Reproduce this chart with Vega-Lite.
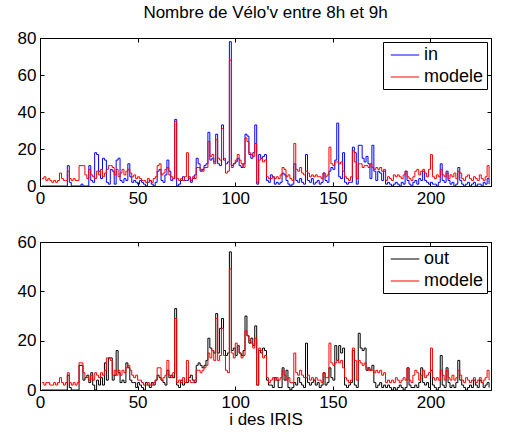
{
  "$schema": "https://vega.github.io/schema/vega-lite/v6.json",
  "padding": {"left": 16, "top": 3, "right": 14, "bottom": 2},
  "spacing": 25,
  "config": {
    "font": "Liberation Sans",
    "view": {"stroke": "black", "strokeWidth": 1},
    "axis": {"domainColor": "black", "tickColor": "black", "labelColor": "black", "labelFontSize": 17, "labelFont": "Liberation Sans", "grid": false, "tickSize": -4, "labelPadding": 8, "titleFontWeight": "normal", "titleFontSize": 17, "titleColor": "black", "titleFont": "Liberation Sans", "labelFlush": false, "labelOverlap": false},
    "legend": {"orient": "top-right", "offset": 4, "title": null, "strokeColor": "black", "fillColor": "white", "padding": 3, "labelFontSize": 18, "labelFont": "Liberation Sans", "labelColor": "black", "symbolType": "M-1.5,0H1.5", "symbolSize": 361, "symbolStrokeWidth": 1, "symbolOffset": 9, "rowPadding": 3, "labelOffset": 9, "cornerRadius": 0},
    "title": {"fontSize": 17, "fontWeight": "normal", "color": "black", "font": "Liberation Sans"}
  },
  "datasets": {
    "d": [
{"i":1,"a":0,"b":4,"c":0,"d":3},{"i":2,"a":0,"b":5,"c":0,"d":2},{"i":3,"a":0,"b":3,"c":0,"d":3},{"i":4,"a":0,"b":4,"c":0,"d":3},{"i":5,"a":0,"b":3,"c":0,"d":2},
{"i":6,"a":0,"b":2,"c":0,"d":2},{"i":7,"a":0,"b":3,"c":0,"d":3},{"i":8,"a":0,"b":2,"c":0,"d":2},{"i":9,"a":0,"b":3,"c":0,"d":3},{"i":10,"a":0,"b":7,"c":0,"d":5},
{"i":11,"a":0,"b":4,"c":0,"d":3},{"i":12,"a":0,"b":3,"c":0,"d":2},{"i":13,"a":0,"b":3,"c":0,"d":3},{"i":14,"a":11,"b":8,"c":6,"d":7},{"i":15,"a":2,"b":4,"c":1,"d":3},
{"i":16,"a":0,"b":3,"c":0,"d":2},{"i":17,"a":0,"b":4,"c":0,"d":3},{"i":18,"a":0,"b":3,"c":0,"d":2},{"i":19,"a":0,"b":3,"c":0,"d":3},{"i":20,"a":0,"b":11,"c":10,"d":11},
{"i":21,"a":1,"b":11,"c":10,"d":11},{"i":22,"a":0,"b":11,"c":4,"d":7},{"i":23,"a":0,"b":6,"c":5,"d":5},{"i":24,"a":0,"b":4,"c":6,"d":5},{"i":25,"a":11,"b":9,"c":3,"d":4},
{"i":26,"a":3,"b":6,"c":7,"d":6},{"i":27,"a":2,"b":5,"c":2,"d":4},{"i":28,"a":18,"b":4,"c":0,"d":7},{"i":29,"a":17,"b":8,"c":4,"d":6},{"i":30,"a":8,"b":6,"c":2,"d":5},
{"i":31,"a":4,"b":9,"c":5,"d":7},{"i":32,"a":15,"b":5,"c":2,"d":6},{"i":33,"a":14,"b":7,"c":11,"d":8},{"i":34,"a":2,"b":9,"c":4,"d":13},{"i":35,"a":1,"b":11,"c":13,"d":13},
{"i":36,"a":9,"b":11,"c":13,"d":12},{"i":37,"a":8,"b":10,"c":4,"d":6},{"i":38,"a":1,"b":6,"c":6,"d":8},{"i":39,"a":14,"b":9,"c":16,"d":6},{"i":40,"a":15,"b":5,"c":7,"d":8},
{"i":41,"a":3,"b":7,"c":3,"d":6},{"i":42,"a":2,"b":9,"c":4,"d":8},{"i":43,"a":4,"b":6,"c":3,"d":7},{"i":44,"a":3,"b":8,"c":11,"d":9},{"i":45,"a":12,"b":9,"c":9,"d":10},
{"i":46,"a":5,"b":7,"c":4,"d":8},{"i":47,"a":2,"b":5,"c":3,"d":6},{"i":48,"a":3,"b":6,"c":3,"d":5},{"i":49,"a":2,"b":4,"c":1,"d":6},{"i":50,"a":1,"b":5,"c":3,"d":4},
{"i":51,"a":3,"b":4,"c":2,"d":4},{"i":52,"a":2,"b":3,"c":1,"d":3},{"i":53,"a":1,"b":3,"c":0,"d":2},{"i":54,"a":0,"b":2,"c":3,"d":2},{"i":55,"a":2,"b":4,"c":2,"d":3},
{"i":56,"a":3,"b":3,"c":1,"d":2},{"i":57,"a":1,"b":2,"c":3,"d":2},{"i":58,"a":0,"b":4,"c":2,"d":3},{"i":59,"a":2,"b":5,"c":4,"d":4},{"i":60,"a":8,"b":11,"c":6,"d":9},
{"i":61,"a":9,"b":12,"c":5,"d":9},{"i":62,"a":3,"b":6,"c":4,"d":4},{"i":63,"a":2,"b":7,"c":3,"d":5},{"i":64,"a":6,"b":9,"c":2,"d":6},{"i":65,"a":14,"b":10,"c":8,"d":12},
{"i":66,"a":8,"b":6,"c":5,"d":6},{"i":67,"a":3,"b":5,"c":6,"d":5},{"i":68,"a":4,"b":4,"c":5,"d":7},{"i":69,"a":36,"b":35,"c":33,"d":29},{"i":70,"a":0,"b":4,"c":2,"d":3},
{"i":71,"a":1,"b":3,"c":1,"d":4},{"i":72,"a":3,"b":4,"c":4,"d":3},{"i":73,"a":5,"b":3,"c":2,"d":5},{"i":74,"a":3,"b":5,"c":3,"d":3},{"i":75,"a":3,"b":18,"c":3,"d":12},
{"i":76,"a":5,"b":4,"c":5,"d":4},{"i":77,"a":2,"b":3,"c":6,"d":3},{"i":78,"a":4,"b":5,"c":4,"d":3},{"i":79,"a":6,"b":4,"c":3,"d":4},{"i":80,"a":15,"b":10,"c":10,"d":8},
{"i":81,"a":12,"b":10,"c":11,"d":8},{"i":82,"a":8,"b":9,"c":10,"d":7},{"i":83,"a":9,"b":8,"c":9,"d":8},{"i":84,"a":11,"b":10,"c":10,"d":9},{"i":85,"a":12,"b":10,"c":12,"d":10},
{"i":86,"a":29,"b":24,"c":21,"d":15},{"i":87,"a":14,"b":16,"c":17,"d":13},{"i":88,"a":15,"b":17,"c":16,"d":16},{"i":89,"a":13,"b":12,"c":15,"d":12},{"i":90,"a":28,"b":25,"c":31,"d":29},
{"i":91,"a":12,"b":15,"c":15,"d":12},{"i":92,"a":11,"b":14,"c":25,"d":14},{"i":93,"a":33,"b":31,"c":29,"d":25},{"i":94,"a":14,"b":15,"c":16,"d":14},{"i":95,"a":12,"b":7,"c":14,"d":8},
{"i":96,"a":13,"b":8,"c":15,"d":7},{"i":97,"a":78,"b":68,"c":56,"d":49},{"i":98,"a":11,"b":10,"c":16,"d":15},{"i":99,"a":12,"b":12,"c":17,"d":13},{"i":100,"a":13,"b":14,"c":14,"d":19},
{"i":101,"a":15,"b":17,"c":18,"d":18},{"i":102,"a":11,"b":14,"c":15,"d":15},{"i":103,"a":10,"b":12,"c":14,"d":13},{"i":104,"a":12,"b":10,"c":16,"d":14},{"i":105,"a":28,"b":26,"c":30,"d":24},
{"i":106,"a":27,"b":24,"c":22,"d":22},{"i":107,"a":17,"b":18,"c":19,"d":20},{"i":108,"a":15,"b":17,"c":21,"d":19},{"i":109,"a":18,"b":16,"c":18,"d":17},{"i":110,"a":33,"b":23,"c":26,"d":21},
{"i":111,"a":1,"b":2,"c":2,"d":2},{"i":112,"a":17,"b":14,"c":16,"d":17},{"i":113,"a":15,"b":15,"c":15,"d":16},{"i":114,"a":16,"b":13,"c":17,"d":13},{"i":115,"a":17,"b":14,"c":16,"d":14},
{"i":116,"a":3,"b":5,"c":4,"d":5},{"i":117,"a":2,"b":4,"c":2,"d":3},{"i":118,"a":6,"b":4,"c":2,"d":4},{"i":119,"a":5,"b":5,"c":1,"d":5},{"i":120,"a":1,"b":4,"c":5,"d":4},
{"i":121,"a":2,"b":5,"c":4,"d":5},{"i":122,"a":1,"b":4,"c":1,"d":4},{"i":123,"a":2,"b":6,"c":1,"d":5},{"i":124,"a":7,"b":10,"c":9,"d":8},{"i":125,"a":6,"b":9,"c":4,"d":6},
{"i":126,"a":3,"b":5,"c":8,"d":4},{"i":127,"a":1,"b":6,"c":1,"d":5},{"i":128,"a":0,"b":4,"c":0,"d":3},{"i":129,"a":1,"b":3,"c":1,"d":3},{"i":130,"a":12,"b":23,"c":3,"d":15},
{"i":131,"a":3,"b":9,"c":2,"d":7},{"i":132,"a":2,"b":8,"c":5,"d":6},{"i":133,"a":4,"b":10,"c":3,"d":8},{"i":134,"a":2,"b":7,"c":2,"d":6},{"i":135,"a":1,"b":6,"c":1,"d":5},
{"i":136,"a":17,"b":8,"c":19,"d":5},{"i":137,"a":3,"b":7,"c":3,"d":6},{"i":138,"a":2,"b":5,"c":2,"d":4},{"i":139,"a":4,"b":6,"c":3,"d":5},{"i":140,"a":1,"b":5,"c":4,"d":4},
{"i":141,"a":2,"b":6,"c":2,"d":5},{"i":142,"a":3,"b":5,"c":3,"d":4},{"i":143,"a":1,"b":5,"c":1,"d":4},{"i":144,"a":2,"b":4,"c":2,"d":3},{"i":145,"a":7,"b":7,"c":7,"d":7},
{"i":146,"a":3,"b":5,"c":2,"d":5},{"i":147,"a":2,"b":6,"c":3,"d":5},{"i":148,"a":8,"b":21,"c":9,"d":19},{"i":149,"a":10,"b":12,"c":5,"d":11},{"i":150,"a":9,"b":11,"c":4,"d":10},
{"i":151,"a":14,"b":13,"c":18,"d":11},{"i":152,"a":34,"b":13,"c":12,"d":12},{"i":153,"a":5,"b":12,"c":18,"d":11},{"i":154,"a":4,"b":13,"c":15,"d":12},{"i":155,"a":18,"b":8,"c":17,"d":9},
{"i":156,"a":2,"b":5,"c":2,"d":5},{"i":157,"a":1,"b":4,"c":1,"d":4},{"i":158,"a":2,"b":3,"c":2,"d":3},{"i":159,"a":2,"b":5,"c":3,"d":4},{"i":160,"a":21,"b":19,"c":16,"d":17},
{"i":161,"a":18,"b":13,"c":2,"d":12},{"i":162,"a":1,"b":4,"c":1,"d":4},{"i":163,"a":22,"b":12,"c":23,"d":12},{"i":164,"a":22,"b":12,"c":17,"d":11},{"i":165,"a":15,"b":10,"c":16,"d":10},
{"i":166,"a":13,"b":11,"c":17,"d":11},{"i":167,"a":16,"b":11,"c":8,"d":9},{"i":168,"a":12,"b":10,"c":9,"d":8},{"i":169,"a":4,"b":12,"c":8,"d":8},{"i":170,"a":22,"b":10,"c":10,"d":8},
{"i":171,"a":8,"b":9,"c":3,"d":7},{"i":172,"a":3,"b":10,"c":1,"d":8},{"i":173,"a":8,"b":9,"c":2,"d":7},{"i":174,"a":7,"b":10,"c":3,"d":8},{"i":175,"a":3,"b":8,"c":1,"d":6},
{"i":176,"a":8,"b":9,"c":2,"d":7},{"i":177,"a":1,"b":3,"c":1,"d":3},{"i":178,"a":2,"b":5,"c":2,"d":4},{"i":179,"a":1,"b":4,"c":1,"d":3},{"i":180,"a":0,"b":3,"c":0,"d":4},
{"i":181,"a":1,"b":6,"c":1,"d":3},{"i":182,"a":2,"b":5,"c":0,"d":5},{"i":183,"a":1,"b":6,"c":1,"d":4},{"i":184,"a":0,"b":5,"c":2,"d":3},{"i":185,"a":2,"b":4,"c":1,"d":4},
{"i":186,"a":1,"b":6,"c":0,"d":5},{"i":187,"a":8,"b":8,"c":1,"d":4},{"i":188,"a":3,"b":5,"c":9,"d":9},{"i":189,"a":1,"b":4,"c":2,"d":4},{"i":190,"a":0,"b":3,"c":1,"d":3},
{"i":191,"a":2,"b":5,"c":1,"d":6},{"i":192,"a":3,"b":8,"c":2,"d":8},{"i":193,"a":1,"b":9,"c":1,"d":7},{"i":194,"a":4,"b":6,"c":3,"d":4},{"i":195,"a":3,"b":8,"c":9,"d":6},
{"i":196,"a":8,"b":9,"c":3,"d":8},{"i":197,"a":3,"b":7,"c":2,"d":5},{"i":198,"a":2,"b":5,"c":3,"d":6},{"i":199,"a":1,"b":9,"c":1,"d":7},{"i":200,"a":2,"b":17,"c":8,"d":17},
{"i":201,"a":1,"b":5,"c":2,"d":5},{"i":202,"a":1,"b":4,"c":1,"d":4},{"i":203,"a":0,"b":6,"c":0,"d":5},{"i":204,"a":2,"b":5,"c":1,"d":4},{"i":205,"a":12,"b":9,"c":14,"d":8},
{"i":206,"a":3,"b":6,"c":2,"d":6},{"i":207,"a":2,"b":5,"c":1,"d":4},{"i":208,"a":8,"b":7,"c":9,"d":8},{"i":209,"a":3,"b":4,"c":3,"d":5},{"i":210,"a":1,"b":6,"c":1,"d":4},
{"i":211,"a":2,"b":5,"c":2,"d":6},{"i":212,"a":0,"b":7,"c":1,"d":4},{"i":213,"a":1,"b":4,"c":3,"d":5},{"i":214,"a":10,"b":8,"c":12,"d":8},{"i":215,"a":3,"b":7,"c":4,"d":6},
{"i":216,"a":1,"b":4,"c":2,"d":4},{"i":217,"a":0,"b":3,"c":1,"d":3},{"i":218,"a":1,"b":5,"c":0,"d":5},{"i":219,"a":2,"b":6,"c":1,"d":4},{"i":220,"a":0,"b":4,"c":2,"d":3},
{"i":221,"a":1,"b":3,"c":1,"d":4},{"i":222,"a":2,"b":5,"c":4,"d":5},{"i":223,"a":0,"b":4,"c":2,"d":3},{"i":224,"a":1,"b":3,"c":1,"d":4},{"i":225,"a":1,"b":6,"c":4,"d":5},
{"i":226,"a":0,"b":4,"c":3,"d":3},{"i":227,"a":2,"b":3,"c":1,"d":4},{"i":228,"a":1,"b":5,"c":2,"d":5},{"i":229,"a":4,"b":11,"c":3,"d":8},{"i":230,"a":1,"b":4,"c":1,"d":4}
    ]
  },
  "vconcat": [
    {
      "width": 451,
      "height": 148,
      "title": {"text": "Nombre de Vélo'v entre 8h et 9h", "anchor": "middle", "offset": 7},
      "data": {"name": "d"},
      "resolve": {"axis": {"x": "independent", "y": "independent"}},
      "layer": [
        {
          "transform": [{"fold": ["a", "b"], "as": ["k", "v"]}],
          "mark": {"type": "line", "interpolate": "step-after", "strokeWidth": 1, "clip": true},
          "encoding": {
            "x": {"field": "i", "type": "quantitative", "scale": {"domain": [0, 231], "nice": false, "zero": false}, "axis": {"values": [0, 50, 100, 150, 200], "title": null}},
            "y": {"field": "v", "type": "quantitative", "scale": {"domain": [0, 80], "nice": false}, "axis": {"values": [0, 20, 40, 60, 80], "title": null}},
            "color": {"field": "k", "type": "nominal", "scale": {"domain": ["a", "b"], "range": ["#0000ff", "#ff0000"]}, "legend": {"labelExpr": "datum.label == 'a' ? 'in' : 'modele'", "encode": {"symbols": {"update": {"stroke": {"signal": "datum.value == 'a' ? '#0000ff' : '#ff0000'"}, "fill": {"value": "transparent"}, "opacity": {"value": 1}, "strokeWidth": {"value": 1}}}}}}
          }
        },
        {
          "mark": {"type": "rule", "opacity": 0},
          "encoding": {
            "x": {"field": "i", "type": "quantitative", "axis": {"orient": "top", "values": [0, 50, 100, 150, 200], "labels": false, "title": null}},
            "y": {"field": "a", "type": "quantitative", "axis": {"orient": "right", "values": [0, 20, 40, 60, 80], "labels": false, "title": null}}
          }
        }
      ]
    },
    {
      "width": 451,
      "height": 148,
      "data": {"name": "d"},
      "resolve": {"axis": {"x": "independent", "y": "independent"}},
      "layer": [
        {
          "transform": [{"fold": ["c", "d"], "as": ["k", "v"]}],
          "mark": {"type": "line", "interpolate": "step-after", "strokeWidth": 1, "clip": true},
          "encoding": {
            "x": {"field": "i", "type": "quantitative", "scale": {"domain": [0, 231], "nice": false, "zero": false}, "axis": {"values": [0, 50, 100, 150, 200], "title": "i des IRIS", "titlePadding": 1}},
            "y": {"field": "v", "type": "quantitative", "scale": {"domain": [0, 60], "nice": false}, "axis": {"values": [0, 20, 40, 60], "title": null}},
            "color": {"field": "k", "type": "nominal", "scale": {"domain": ["c", "d"], "range": ["#000000", "#ff0000"]}, "legend": {"labelExpr": "datum.label == 'c' ? 'out' : 'modele'", "encode": {"symbols": {"update": {"stroke": {"signal": "datum.value == 'c' ? '#000000' : '#ff0000'"}, "fill": {"value": "transparent"}, "opacity": {"value": 1}, "strokeWidth": {"value": 1}}}}}}
          }
        },
        {
          "mark": {"type": "rule", "opacity": 0},
          "encoding": {
            "x": {"field": "i", "type": "quantitative", "axis": {"orient": "top", "values": [0, 50, 100, 150, 200], "labels": false, "title": null}},
            "y": {"field": "c", "type": "quantitative", "axis": {"orient": "right", "values": [0, 20, 40, 60], "labels": false, "title": null}}
          }
        }
      ]
    }
  ],
  "resolve": {"scale": {"color": "independent"}}
}
